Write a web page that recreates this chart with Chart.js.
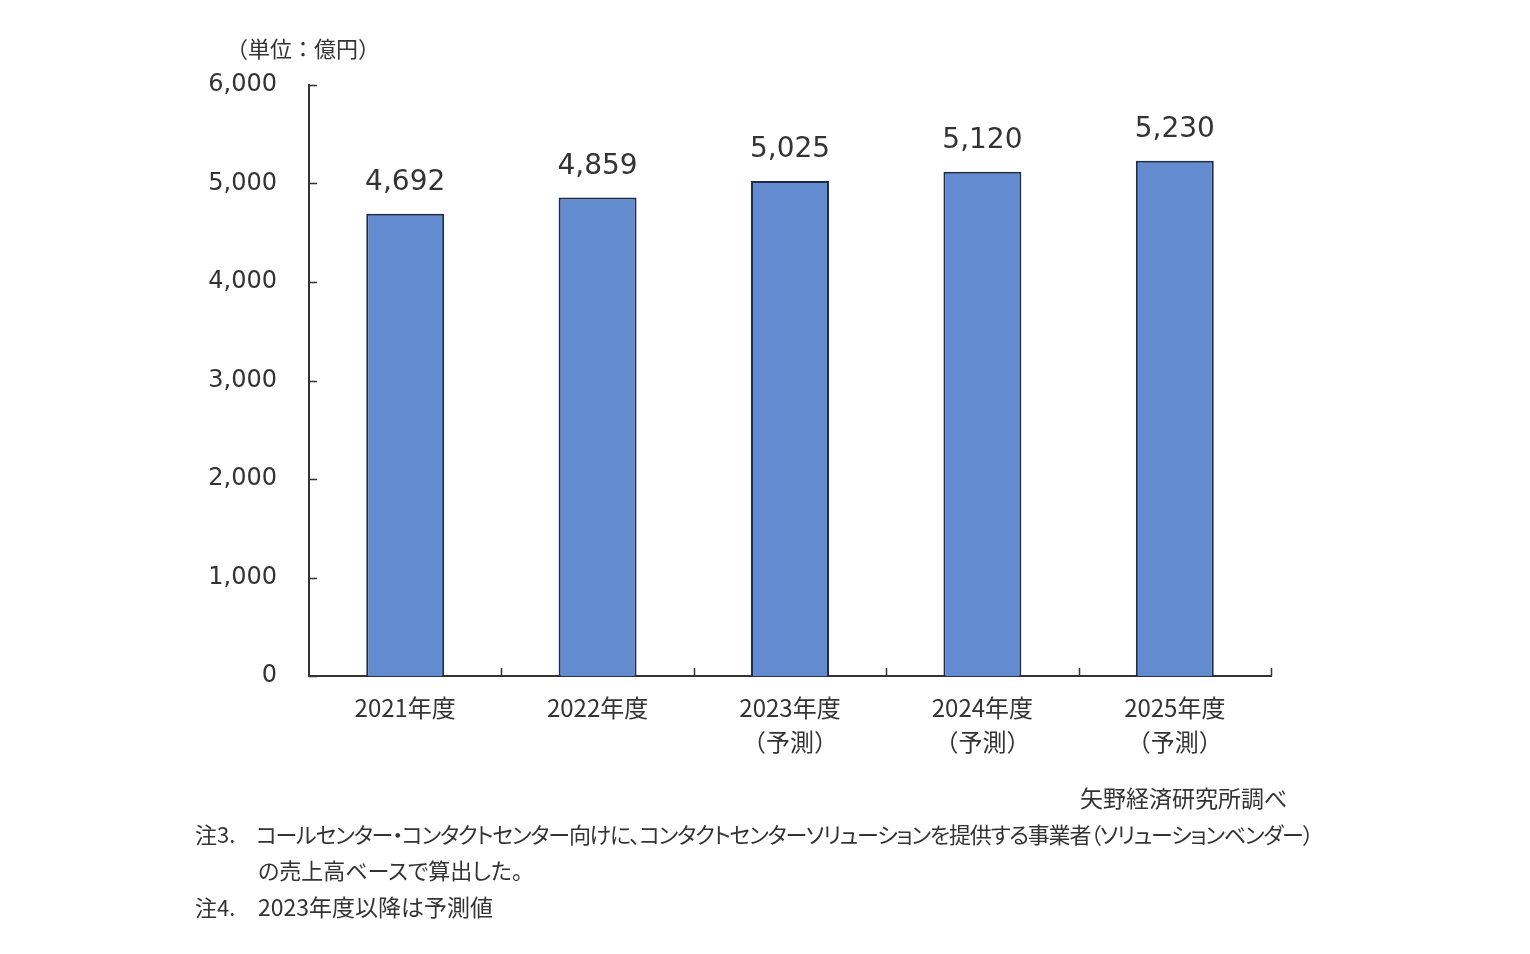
<!DOCTYPE html>
<html>
<head>
<meta charset="utf-8">
<script src="https://cdn.jsdelivr.net/npm/chart.js@4"></script>
<style>
    body { margin: 0; background: #fff; }
    .wrap { position: relative; width: 1530px; height: 954px; }
    canvas { position: absolute; left: 0; top: 0; }
    .note {
        position: absolute;
        font-family: "Noto Sans CJK JP", sans-serif;
        font-size: 22px;
        color: #333;
        white-space: nowrap;
        font-feature-settings: "palt";
        line-height: 1;
    }
</style>
</head>
<body>
<div class="wrap">
    <canvas id="myChart" width="1530" height="954"></canvas>
    <div class="note" style="left:226px; top:36px; font-feature-settings: normal;">（単位：億円）</div>
    <div class="note" style="right:243px; top:786px; font-size:23px; font-feature-settings: normal;">矢野経済研究所調べ</div>
    <div class="note" style="left:195px; top:822px;">注3.</div>
    <div class="note" style="left:256px; top:822px; letter-spacing:-1.2px;">コールセンター・コンタクトセンター向けに、コンタクトセンターソリューションを提供する事業者（ソリューションベンダー）</div>
    <div class="note" style="left:258px; top:858px;">の売上高ベースで算出した。</div>
    <div class="note" style="left:195px; top:895px;">注4.</div>
    <div class="note" style="left:258px; top:895px; font-size:23px;">2023年度以降は予測値</div>
</div>
<script>
const categories = [
    ["2021年度"],
    ["2022年度"],
    ["2023年度", "（予測）"],
    ["2024年度", "（予測）"],
    ["2025年度", "（予測）"]
];
const sales = [4692, 4859, 5025, 5120, 5230];
const yTicks = [0, 1000, 2000, 3000, 4000, 5000, 6000];

// ticks drawn inside the plot, plus value labels above bars
const innerTicks = {
    id: "innerTicks",
    afterDraw(chart) {
        const ctx = chart.ctx;
        const x = chart.scales.x;
        const y = chart.scales.y;
        ctx.save();
        ctx.strokeStyle = "#333";
        ctx.lineWidth = 1.5;
        ctx.beginPath();
        yTicks.forEach(v => {
            const py = Math.round(y.getPixelForValue(v)) + 0.5;
            ctx.moveTo(x.left, py);
            ctx.lineTo(x.left + 8, py);
        });
        const step = (x.right - x.left) / categories.length;
        for (let i = 1; i <= categories.length; i++) {
            const px = Math.round(x.left + step * i) + 0.5;
            ctx.moveTo(px, y.bottom);
            ctx.lineTo(px, y.bottom - 8);
        }
        ctx.stroke();

        ctx.fillStyle = "#333";
        ctx.font = "28px 'DejaVu Sans'";
        ctx.textAlign = "center";
        ctx.textBaseline = "bottom";
        const meta = chart.getDatasetMeta(0);
        meta.data.forEach((bar, i) => {
            ctx.fillText(sales[i].toLocaleString("en-US"), bar.x, bar.y - 17);
        });
        ctx.restore();
    }
};

new Chart("myChart", {
    type: "bar",
    data: {
        labels: categories,
        datasets: [{
            data: sales,
            backgroundColor: "#628bd0",
            borderColor: "#1c2b4a",
            borderWidth: 2,
            barPercentage: 0.405,
            categoryPercentage: 1
        }]
    },
    plugins: [innerTicks],
    options: {
        responsive: false,
        animation: false,
        layout: {
            padding: { top: 85, right: 259, left: 0, bottom: 0 }
        },
        scales: {
            x: {
                grid: { display: false },
                border: { color: "#333", width: 2 },
                ticks: {
                    color: "#333",
                    padding: 6,
                    font: { size: 24, family: "'Noto Sans CJK JP'", lineHeight: 1.45 }
                },
                afterFit(scale) { scale.height = 278; }
            },
            y: {
                min: 0,
                max: 6000,
                afterBuildTicks(scale) { scale.ticks = yTicks.map(v => ({ value: v })); },
                grid: { display: false },
                border: { color: "#333", width: 2 },
                ticks: {
                    color: "#333",
                    padding: 24,
                    font: { size: 24, family: "'DejaVu Sans'" },
                    callback: v => v.toLocaleString("en-US")
                },
                afterFit(scale) { scale.width = 309; }
            }
        },
        plugins: {
            legend: { display: false },
            tooltip: { enabled: false }
        }
    }
});
</script>
</body>
</html>
